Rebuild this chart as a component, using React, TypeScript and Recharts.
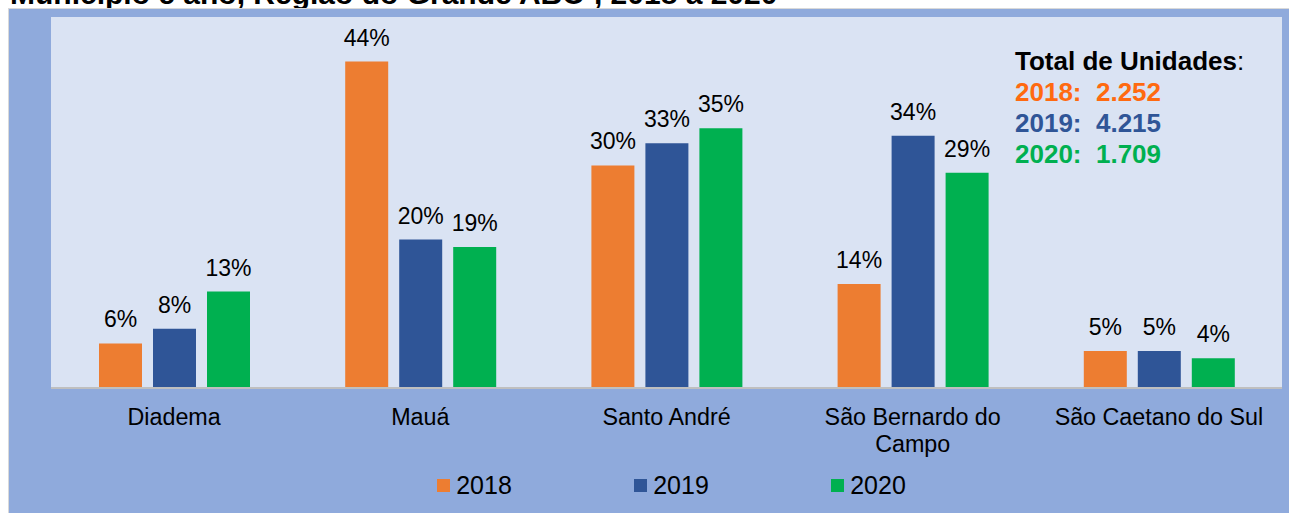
import React from "react";
import { Bar, BarChart, CartesianGrid, LabelList, Legend, XAxis, YAxis } from "recharts";

const municipios = ["Diadema", "Mauá", "Santo André", "São Bernardo do Campo", "São Caetano do Sul"];
const pct2018 = [6, 44, 30, 14, 5];
const pct2019 = [8, 20, 33, 34, 5];
const pct2020 = [13, 19, 35, 29, 4];

const anos = ["2018", "2019", "2020"];
const totais = ["2.252", "4.215", "1.709"];
const cores = ["#ED7D31", "#2F5597", "#00B050"];
const coresTotais = ["#FF6A10", "#2F5597", "#00B050"];

const titulo = "Município e ano, Região do Grande ABC¹, 2018 a 2020";

const data = municipios.map((name, i) => ({
  name,
  y2018: pct2018[i],
  y2019: pct2019[i],
  y2020: pct2020[i],
}));

const FONT = "'Liberation Sans', Arial, sans-serif";

// quebra simples por número de caracteres (como o Excel faz na largura da categoria)
function wrapLabel(s: string, max = 18) {
  const lines: string[] = [];
  let cur = "";
  for (const w of s.split(" ")) {
    const next = cur ? `${cur} ${w}` : w;
    if (next.length > max && cur) {
      lines.push(cur);
      cur = w;
    } else {
      cur = next;
    }
  }
  if (cur) lines.push(cur);
  return lines;
}

function CategoryTick(props: any) {
  const { x, y, payload } = props;
  const lines = wrapLabel(String(payload.value));
  return (
    <text x={x} y={y + 29} textAnchor="middle" fill="#000" fontSize={23.3} fontFamily={FONT}>
      {lines.map((l, i) => (
        <tspan key={i} x={x} dy={i === 0 ? 0 : 27}>
          {l}
        </tspan>
      ))}
    </text>
  );
}

function LegendContent(props: any) {
  const items = props.payload || [];
  return (
    <div style={{ display: "flex", justifyContent: "center", fontFamily: FONT, fontSize: 25, paddingLeft: 10 }}>
      {items.map((it: any) => (
        <div
          key={it.value}
          style={{ width: 197, display: "flex", alignItems: "center", justifyContent: "center", height: 30 }}
        >
          <span style={{ width: 13, height: 13, background: it.color, display: "inline-block", marginRight: 6 }} />
          <span style={{ color: "#000" }}>{it.value}</span>
        </div>
      ))}
    </div>
  );
}

export default function App() {
  return (
    <div style={{ position: "absolute", left: 0, top: 0, width: 1289, height: 513, background: "#fff", overflow: "hidden" }}>
      <div
        style={{
          position: "absolute",
          left: 10,
          top: -21,
          fontFamily: FONT,
          fontWeight: "bold",
          fontSize: 30,
          lineHeight: "30px",
          whiteSpace: "nowrap",
          color: "#000",
        }}
      >
        {titulo}
      </div>
      <div
        style={{
          position: "absolute",
          left: 8,
          top: 8,
          width: 1281,
          height: 505,
          background: "#D9D9D9",
        }}
      />
      <div style={{ position: "absolute", left: 9, top: 9, width: 1280, height: 504, background: "#8FAADC" }}>
        <BarChart
          width={1280}
          height={504}
          data={data}
          margin={{ top: 8, right: 7, left: 42, bottom: 13 }}
          barSize={43}
          barGap={11}
        >
          <CartesianGrid fill="#DAE3F3" horizontal={false} vertical={false} />
          <YAxis hide domain={[0, 50]} />
          <XAxis
            dataKey="name"
            height={82}
            interval={0}
            tickLine={false}
            axisLine={{ stroke: "#BFBFBF", strokeWidth: 2 }}
            tick={<CategoryTick />}
          />
          <Legend verticalAlign="bottom" content={<LegendContent />} />
          {anos.map((ano, i) => (
            <Bar key={ano} dataKey={`y${ano}`} name={ano} fill={cores[i]} isAnimationActive={false}>
              <LabelList
                dataKey={`y${ano}`}
                position="top"
                offset={16}
                formatter={(v: any) => `${v}%`}
                fill="#000"
                style={{ fontSize: 23, fontFamily: FONT }}
              />
            </Bar>
          ))}
        </BarChart>
        <div
          style={{
            position: "absolute",
            left: 1006,
            top: 37,
            fontFamily: FONT,
            fontSize: 26,
            fontWeight: "bold",
            lineHeight: "31px",
            whiteSpace: "pre",
          }}
        >
          <div style={{ color: "#000" }}>
            Total de Unidades<span style={{ fontWeight: "normal" }}>:</span>
          </div>
          {anos.map((ano, i) => (
            <div key={ano} style={{ color: coresTotais[i] }}>
              {`${ano}:  ${totais[i]}`}
            </div>
          ))}
        </div>
      </div>
    </div>
  );
}
